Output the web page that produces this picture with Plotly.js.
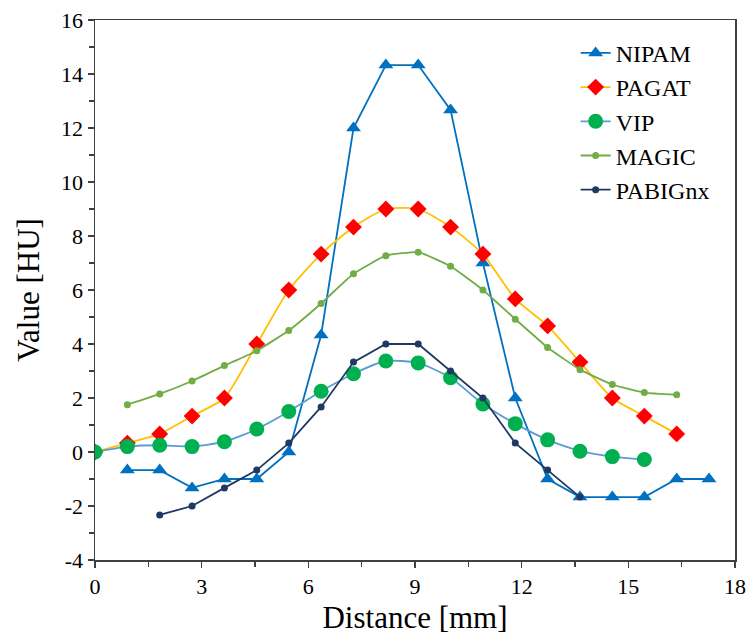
<!DOCTYPE html>
<html>
<head>
<meta charset="utf-8">
<script src="https://cdn.plot.ly/plotly-3.0.1.min.js"></script>
<style>
html,body{margin:0;padding:0;background:#fff}
#chart{width:746px;height:640px}
</style>
</head>
<body>
<div id="chart"></div>
<script>
const distance = [0, 0.91, 1.82, 2.73, 3.64, 4.55, 5.45, 6.36, 7.27, 8.18, 9.09, 10, 10.91, 11.82, 12.73, 13.64, 14.55, 15.45, 16.36, 17.27];
const nipam   = [null, -0.67, -0.67, -1.33, -1, -1, 0, 4.33, 12, 14.33, 14.33, 12.67, 7, 2, -1, -1.67, -1.67, -1.67, -1, -1];
const pagat   = [0, 0.33, 0.67, 1.33, 2, 4, 6, 7.33, 8.33, 9, 9, 8.33, 7.33, 5.67, 4.67, 3.33, 2, 1.33, 0.67, null];
const vip     = [0, 0.2, 0.25, 0.2, 0.38, 0.85, 1.5, 2.25, 2.9, 3.37, 3.3, 2.75, 1.78, 1.05, 0.45, 0.03, -0.17, -0.28, null, null];
const magic   = [null, 1.75, 2.15, 2.63, 3.2, 3.75, 4.5, 5.5, 6.6, 7.27, 7.4, 6.88, 6.0, 4.92, 3.87, 3.05, 2.5, 2.2, 2.12, null];
const pabignx = [null, null, -2.33, -2, -1.33, -0.67, 0.33, 1.67, 3.33, 4, 4, 3, 2, 0.33, -0.67, -1.67, null, null, null, null];
const seriesNames = ["NIPAM", "PAGAT", "VIP", "MAGIC", "PABIGnx"];
const xTicks = [0, 3, 6, 9, 12, 15, 18];
const yTicks = [-4, -2, 0, 2, 4, 6, 8, 10, 12, 14, 16];

function f(size, w) { return {family: 'Liberation Serif', size: size, color: '#000', weight: w || 'normal'}; }

const traces = [
  {x: distance, y: nipam, name: seriesNames[0], mode: 'lines+markers',
   line: {color: '#0070C0', width: 1.8},
   marker: {symbol: 'triangle-up', size: 13, color: '#0070C0'}},
  {x: distance, y: pagat, name: seriesNames[1], mode: 'lines+markers',
   line: {color: '#FFC000', width: 1.8, shape: 'spline', smoothing: 0.6},
   marker: {symbol: 'diamond', size: 13, color: '#FF0000'}},
  {x: distance, y: vip, name: seriesNames[2], mode: 'lines+markers',
   line: {color: '#5B9BD5', width: 1.8, shape: 'spline', smoothing: 0.6},
   marker: {symbol: 'circle', size: 15, color: '#00B050'}},
  {x: distance, y: magic, name: seriesNames[3], mode: 'lines+markers',
   line: {color: '#70AD47', width: 1.8, shape: 'spline', smoothing: 0.4},
   marker: {symbol: 'circle', size: 7, color: '#70AD47'}},
  {x: distance, y: pabignx, name: seriesNames[4], mode: 'lines+markers',
   line: {color: '#203864', width: 1.8},
   marker: {symbol: 'circle', size: 7, color: '#203864'}}
];

const layout = {
  width: 746, height: 640,
  margin: {l: 95, r: 11, t: 20, b: 80},
  paper_bgcolor: '#fff', plot_bgcolor: '#fff',
  font: f(22),
  showlegend: true,
  legend: {x: 0.751, y: 0.98, xanchor: 'left', yanchor: 'top',
           font: f(24, 500),
           bgcolor: 'rgba(0,0,0,0)', itemwidth: 30},
  xaxis: {range: [0, 18], tickvals: xTicks, ticktext: xTicks.map(String),
          showgrid: false, zeroline: false, showline: true, mirror: true,
          linecolor: '#404040', linewidth: 1.5, ticks: 'outside', ticklen: 6,
          tickcolor: '#404040', tickwidth: 1.5, tickfont: f(22, 500),
          ticklabeloverflow: 'allow',
          minor: {dtick: 1.5, tick0: 0, ticks: 'outside', ticklen: 5, tickcolor: '#404040', tickwidth: 1.5},
          title: {text: 'Distance [mm]', font: f(31), standoff: 8}},
  yaxis: {range: [-4, 16], tickvals: yTicks, ticktext: yTicks.map(String),
          showgrid: false, zeroline: false, showline: true, mirror: true,
          linecolor: '#404040', linewidth: 1.5, ticks: 'outside', ticklen: 6,
          tickcolor: '#404040', tickwidth: 1.5, tickfont: f(22, 500),
          minor: {dtick: 1, tick0: 0, ticks: 'outside', ticklen: 5, tickcolor: '#404040', tickwidth: 1.5},
          title: {text: 'Value [HU]', font: f(31), standoff: 12}}
};

Plotly.newPlot('chart', traces, layout, {displayModeBar: false, staticPlot: true});
</script>
</body>
</html>
